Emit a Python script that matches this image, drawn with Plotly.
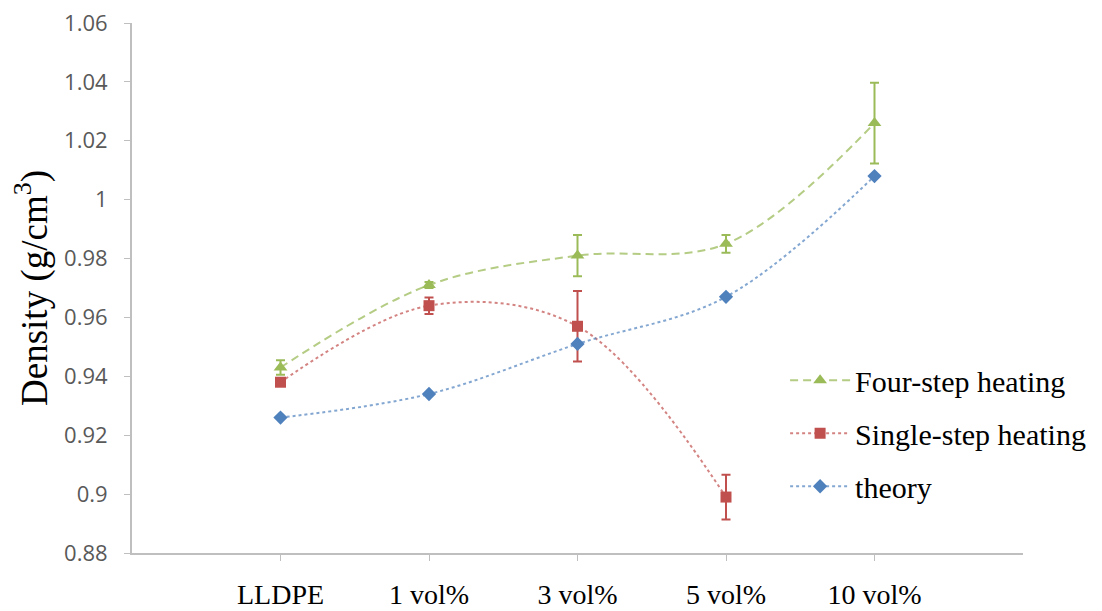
import plotly.graph_objects as go

categories = ["LLDPE", "1 vol%", "3 vol%", "5 vol%", "10 vol%"]

four_step = [0.943, 0.971, 0.981, 0.985, 1.026]
four_step_err = [0.0025, 0.001, 0.007, 0.003, 0.0137]

single_step = [0.938, 0.964, 0.957, 0.899, None]
single_step_err = [0.001, 0.0028, 0.012, 0.0076, None]

theory = [0.926, 0.934, 0.951, 0.967, 1.008]

y_ticks = [0.88, 0.90, 0.92, 0.94, 0.96, 0.98, 1.00, 1.02, 1.04, 1.06]
y_tick_labels = ["0.88", "0.9", "0.92", "0.94", "0.96", "0.98", "1", "1.02", "1.04", "1.06"]

GREEN = "#9BBB59"
RED = "#C0504D"
BLUE = "#4F81BD"

fig = go.Figure()

fig.add_trace(go.Scatter(
    x=categories, y=four_step, name="Four-step heating", legendgroup="a",
    mode="lines+markers",
    line=dict(color="rgba(155,187,89,0.75)", width=2, dash="8px,5px", shape="spline", smoothing=1),
    marker=dict(symbol="triangle-up", size=12, color=GREEN),
    error_y=dict(type="data", array=four_step_err, color=GREEN, thickness=2, width=4.5),
))
fig.add_trace(go.Scatter(
    x=categories, y=single_step, name="Single-step heating", legendgroup="b",
    mode="lines+markers",
    line=dict(color="rgba(192,80,77,0.7)", width=2, dash="3px,3px", shape="spline", smoothing=1),
    marker=dict(symbol="square", size=11, color=RED),
    error_y=dict(type="data", array=single_step_err, color=RED, thickness=2, width=4.5),
))
fig.add_trace(go.Scatter(
    x=categories, y=theory, name="theory", legendgroup="c",
    mode="lines+markers",
    line=dict(color="rgba(79,129,189,0.7)", width=2, dash="3px,3px", shape="spline", smoothing=1),
    marker=dict(symbol="diamond", size=11, color=BLUE),
))

fig.update_layout(
    width=1094, height=603,
    margin=dict(l=124, r=79, t=15, b=58, autoexpand=False),
    paper_bgcolor="white", plot_bgcolor="white",
    showlegend=True,
    legend=dict(
        x=0.733, xanchor="left", y=0.375, yanchor="top",
        font=dict(family="Liberation Serif", size=30, color="#000000"),
        tracegroupgap=11, bgcolor="rgba(0,0,0,0)", itemwidth=60,
    ),
    xaxis=dict(
        type="category", range=[-1, 5], automargin=False,
        showline=True, linecolor="#bfbfbf", linewidth=2,
        ticks="outside", ticklen=6, tickcolor="#bfbfbf", tickwidth=1,
        showgrid=False, zeroline=False,
        tickfont=dict(family="Liberation Serif", size=28, color="#000000"),
        ticklabelstandoff=9, ticklabeloverflow="allow",
    ),
    yaxis=dict(
        range=[0.88, 1.06], automargin=False,
        tickvals=y_ticks, ticktext=y_tick_labels,
        showline=True, linecolor="#bfbfbf", linewidth=2,
        ticks="outside", ticklen=6, tickcolor="#bfbfbf", tickwidth=1,
        showgrid=False, zeroline=False,
        tickfont=dict(family="Open Sans", size=22, color="#595959"),
        ticklabelstandoff=12, ticklabeloverflow="allow",
        title=dict(text="Density (g/cm<sup>3</sup>)", standoff=16,
                   font=dict(family="Liberation Serif", size=37, color="#000000")),
    ),
)

fig.write_html("out.html")
